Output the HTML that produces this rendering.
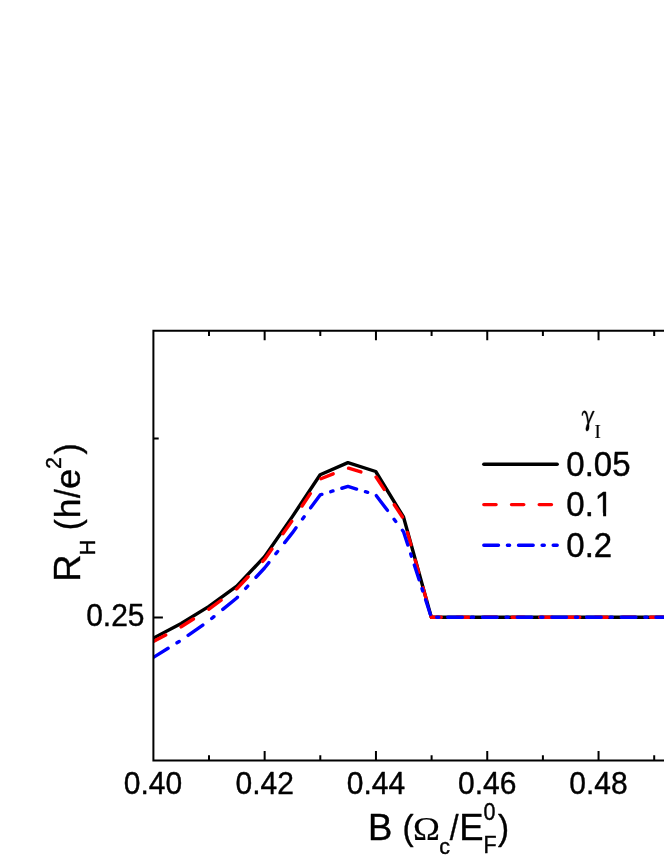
<!DOCTYPE html>
<html><head><meta charset="utf-8"><title>chart</title>
<style>html,body{margin:0;padding:0;background:#fff;overflow:hidden}svg{display:block}text{font-family:"Liberation Sans",sans-serif;fill:#000;stroke:#000;stroke-width:.4px;stroke-linejoin:round}.s{font-family:"Liberation Serif",serif;stroke-width:.2px}</style></head><body>
<svg width="664" height="860" viewBox="0 0 664 860">
<rect width="664" height="860" fill="#fff"/>
<g fill="none" stroke-width="3.40" stroke-linecap="round" stroke-linejoin="round">
<clipPath id="cp"><rect x="153.4" y="330.8" width="600" height="429.8"/></clipPath>
<g clip-path="url(#cp)">
<path stroke="#000" d="M153.40 638.10 L181.19 623.50 L208.98 606.40 L236.77 586.20 L264.56 556.70 L292.35 516.60 L320.14 474.80 L347.93 462.60 L375.72 471.50 L403.51 517.00 L431.30 617.20 L700.00 617.20"/>
<path stroke="#f00" d="M153.40 641.50 L165.70 634.99 M181.10 626.85 L181.19 626.80 L193.40 619.02 M208.80 609.21 L208.98 609.10 L221.10 600.25 M236.50 589.00 L236.77 588.80 L248.14 576.77 M262.70 561.37 L264.56 559.40 L271.94 549.07 M282.94 533.67 L291.73 521.37 M302.08 505.97 L310.32 493.67 M320.87 478.71 L333.17 473.84 M348.57 468.20 L360.87 471.96 M376.08 477.05 L384.18 489.35 M394.32 504.75 L402.42 517.05 M407.39 532.45 L410.86 544.75 M415.20 560.15 L418.67 572.45 M423.02 587.85 L426.49 600.15 M430.83 615.55 L431.30 617.20 L441.25 617.20 M456.65 617.20 L468.95 617.20 M484.35 617.20 L496.65 617.20 M512.05 617.20 L524.35 617.20 M539.75 617.20 L552.05 617.20 M567.45 617.20 L579.75 617.20 M595.15 617.20 L607.45 617.20 M622.85 617.20 L635.15 617.20 M650.55 617.20 L662.85 617.20 M678.25 617.20 L690.55 617.20"/>
<path stroke="#00f" d="M153.40 657.40 L168.10 648.30 M177.00 642.79 L179.20 641.43 M188.10 635.35 L202.80 625.04 M211.70 618.48 L213.90 616.68 M222.80 609.41 L236.77 598.00 L237.45 597.27 M245.69 588.37 L247.73 586.17 M255.97 577.27 L264.56 568.00 L268.86 562.57 M275.91 553.67 L277.65 551.47 M284.69 542.57 L292.35 532.90 L296.03 527.87 M302.54 518.97 L304.15 516.77 M310.65 507.87 L320.14 494.90 L321.87 494.37 M330.77 491.65 L332.97 490.98 M341.87 488.25 L347.93 486.40 L356.57 489.01 M365.47 491.70 L367.67 492.37 M376.36 495.65 L387.40 510.35 M394.08 519.25 L395.74 521.45 M402.42 530.35 L403.51 531.80 L407.82 545.05 M410.72 553.95 L411.43 556.15 M414.33 565.05 L419.11 579.75 M422.01 588.65 L422.73 590.85 M425.62 599.75 L430.41 614.45 M436.65 617.20 L438.85 617.20 M447.75 617.20 L462.45 617.20 M471.35 617.20 L473.55 617.20 M482.45 617.20 L497.15 617.20 M506.05 617.20 L508.25 617.20 M517.15 617.20 L531.85 617.20 M540.75 617.20 L542.95 617.20 M551.85 617.20 L566.55 617.20 M575.45 617.20 L577.65 617.20 M586.55 617.20 L601.25 617.20 M610.15 617.20 L612.35 617.20 M621.25 617.20 L635.95 617.20 M644.85 617.20 L647.05 617.20 M655.95 617.20 L670.65 617.20 M679.55 617.20 L681.75 617.20 M690.65 617.20 L700.00 617.20"/>
</g>
<path stroke="#000" d="M483.8 464.3 L557.2 464.3"/>
<path stroke="#f00" d="M483.80 504.60 L496.10 504.60 M511.50 504.60 L523.80 504.60 M539.20 504.60 L551.50 504.60"/>
<path stroke="#00f" d="M483.80 545.20 L498.50 545.20 M507.40 545.20 L509.60 545.20 M518.50 545.20 L533.20 545.20 M542.10 545.20 L544.30 545.20 M553.20 545.20 L557.20 545.20"/>
</g>
<g fill="none" stroke="#000" stroke-width="2" stroke-linecap="butt">
<path d="M700 330.8 L153.4 330.8 L153.4 760.6 L700 760.6" stroke-linejoin="miter"/>
<path d="M209.00 330.8 v5.3 M209.00 760.6 v-5.3 M264.65 330.8 v9.5 M264.65 760.6 v-9.5 M320.30 330.8 v5.3 M320.30 760.6 v-5.3 M375.95 330.8 v9.5 M375.95 760.6 v-9.5 M431.60 330.8 v5.3 M431.60 760.6 v-5.3 M487.25 330.8 v9.5 M487.25 760.6 v-9.5 M542.90 330.8 v5.3 M542.90 760.6 v-5.3 M598.55 330.8 v9.5 M598.55 760.6 v-9.5 M654.20 330.8 v5.3 M654.20 760.6 v-5.3 M153.4 617.5 h9.5 M153.4 438.4 h5.3"/>
</g>
<g opacity="0.999">
<text text-anchor="middle" font-size="30" transform="translate(152.90 793.55) scale(1 1.025)">0.40</text>
<text text-anchor="middle" font-size="30" transform="translate(264.65 793.55) scale(1 1.025)">0.42</text>
<text text-anchor="middle" font-size="30" transform="translate(375.95 793.55) scale(1 1.025)">0.44</text>
<text text-anchor="middle" font-size="30" transform="translate(487.25 793.55) scale(1 1.025)">0.46</text>
<text text-anchor="middle" font-size="30" transform="translate(598.55 793.55) scale(1 1.025)">0.48</text>
<text text-anchor="end" font-size="30" transform="translate(144.50 626.30) scale(1 1.025)">0.25</text>
<text font-size="33" transform="translate(566.35 476.30) scale(1 1.075)">0.05</text>
<text font-size="33" transform="translate(566.35 556.75) scale(1 1.075)">0.2</text>
<text font-size="33" transform="translate(566.35 516.25) scale(1 1.075)">0.</text>
<text font-size="33" transform="translate(594.87 516.25) scale(1 1.075)">1</text>
<path fill="#fff" d="M596.37 512.85 h6.75 v4.40 h-6.75 Z M606.14 512.85 h6.60 v4.40 h-6.60 Z"/>
<path d="M581.87 415.49 L582.01 413.46 L582.87 411.51 L584.36 410.74 L586.03 411.33 L587.12 413.23 L587.88 416.39 L588.56 420.37 L588.83 420.55 L590.91 415.04 L592.36 411.65 L592.81 411.06 L594.17 411.06 L594.35 411.51 L593.80 412.55 L591.59 417.52 L589.56 421.91 L588.97 424.08 L589.15 426.33 L588.92 428.96 L588.02 430.63 L586.85 431.12 L586.03 430.45 L585.81 428.73 L586.48 425.66 L587.48 423.26 L587.30 421.36 L586.66 417.39 L585.76 414.13 L584.68 412.69 L583.59 412.78 L582.96 414.04 L582.73 415.58 Z" fill="#000" stroke="#000" stroke-width="0.35" stroke-linejoin="round"/>
<text class="s" font-size="19" transform="translate(594.60 438.00) scale(1 1)">I</text>
<text font-size="36.5" transform="translate(367.90 839.70) scale(1 1.025)">B</text>
<text font-size="36.5" transform="translate(402.60 839.70) scale(0.91 0.966)">(</text>
<text class="s" font-size="34.4" transform="translate(413.10 839.70) scale(1.055 1)">Ω</text>
<text font-size="21.5" transform="translate(439.30 853.90) scale(1 1)">c</text>
<text font-size="36.5" transform="translate(449.86 839.70) scale(0.87 0.97)">/</text>
<text font-size="36.5" transform="translate(459.30 839.70) scale(1 1.025)">E</text>
<text font-size="21.5" transform="translate(483.60 820.10) scale(1 1.15)">0</text>
<text font-size="21.5" transform="translate(483.60 853.10) scale(1 1.085)">F</text>
<text font-size="36.5" transform="translate(498.00 839.70) scale(0.91 0.966)">)</text>
<text font-size="36.5" transform="translate(80.30 582.05) rotate(-90) scale(1.047 1)">R</text>
<text font-size="21.5" transform="translate(94.80 555.30) rotate(-90) scale(1 1.04)">H</text>
<text font-size="36.5" transform="translate(80.30 530.20) rotate(-90) scale(0.91 0.966)">(</text>
<text font-size="36.5" transform="translate(80.30 518.30) rotate(-90) scale(0.97 0.95)">h</text>
<text font-size="36.5" transform="translate(80.30 498.10) rotate(-90) scale(0.87 0.97)">/</text>
<text font-size="36.5" transform="translate(80.30 488.95) rotate(-90) scale(1 0.955)">e</text>
<text font-size="21.5" transform="translate(60.90 468.90) rotate(-90) scale(1 1.04)">2</text>
<text font-size="36.5" transform="translate(80.30 454.60) rotate(-90) scale(0.91 0.966)">)</text>
</g>
</svg></body></html>
